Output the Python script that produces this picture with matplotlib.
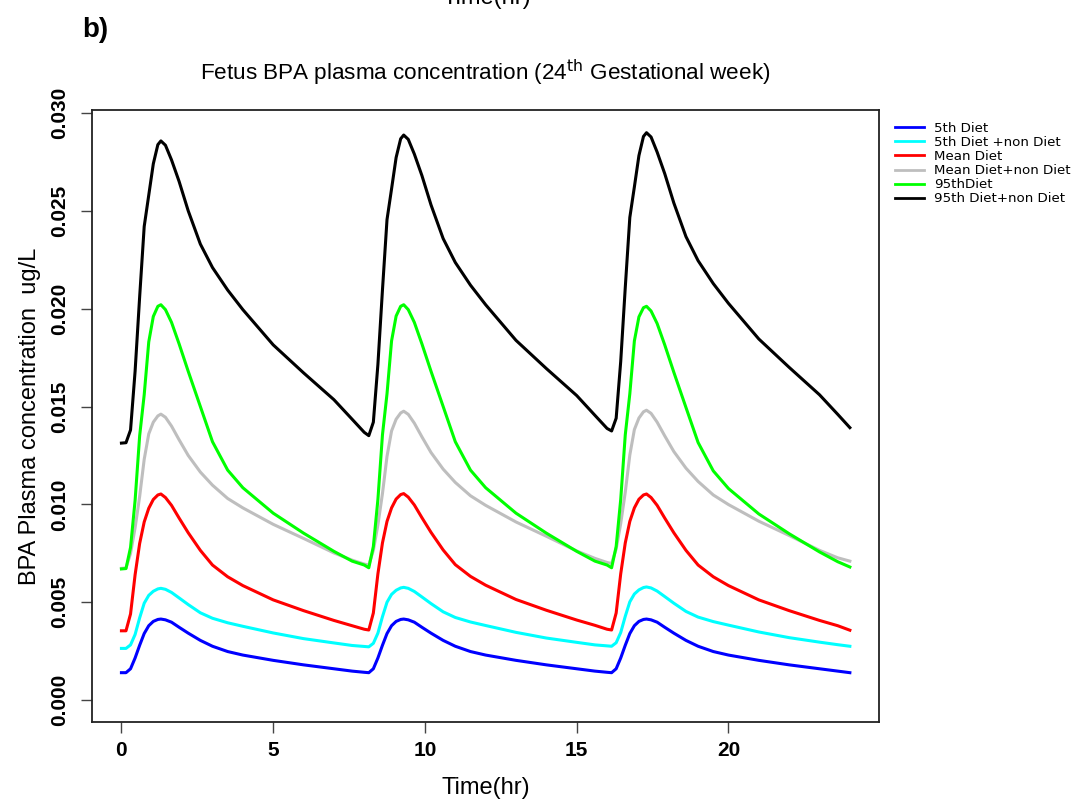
import matplotlib
matplotlib.use("Agg")
import matplotlib.pyplot as plt

plt.rcParams['font.family'] = ['Liberation Sans', 'DejaVu Sans']

hours = [0.0, 0.15, 0.3, 0.45, 0.6, 0.75, 0.9, 1.05, 1.2, 1.3, 1.45, 1.65, 1.9, 2.2, 2.6, 3.0, 3.5, 4.0, 5.0, 6.0, 7.0, 7.6,
         8.0, 8.15, 8.3, 8.45, 8.6, 8.75, 8.9, 9.05, 9.2, 9.3, 9.45, 9.65, 9.9, 10.2, 10.6, 11.0, 11.5, 12.0, 13.0, 14.0, 15.0, 15.6,
         16.0, 16.15, 16.3, 16.45, 16.6, 16.75, 16.9, 17.05, 17.2, 17.3, 17.45, 17.65, 17.9, 18.2, 18.6, 19.0, 19.5, 20.0, 21.0, 22.0, 23.0, 23.6,
         24.0]

diet_5th = [0.00140, 0.00140, 0.00160, 0.00215, 0.00280, 0.00340, 0.00380, 0.00402, 0.00412, 0.00414, 0.00410, 0.00398, 0.00372, 0.00342, 0.00305, 0.00275, 0.00248, 0.00230, 0.00203, 0.00180, 0.00160, 0.00148,
            0.00142, 0.00140, 0.00160, 0.00215, 0.00280, 0.00340, 0.00380, 0.00402, 0.00412, 0.00414, 0.00410, 0.00398, 0.00372, 0.00342, 0.00305, 0.00275, 0.00248, 0.00230, 0.00203, 0.00180, 0.00160, 0.00148,
            0.00142, 0.00140, 0.00160, 0.00215, 0.00280, 0.00340, 0.00380, 0.00402, 0.00412, 0.00414, 0.00410, 0.00398, 0.00372, 0.00342, 0.00305, 0.00275, 0.00248, 0.00230, 0.00203, 0.00180, 0.00160, 0.00148,
            0.00140]

diet_5th_non = [0.00264, 0.00264, 0.00282, 0.00335, 0.00420, 0.00495, 0.00535, 0.00556, 0.00568, 0.00571, 0.00566, 0.00550, 0.00522, 0.00488, 0.00446, 0.00418, 0.00395, 0.00377, 0.00343, 0.00314, 0.00292, 0.00279,
                0.00274, 0.00272, 0.00290, 0.00342, 0.00426, 0.00500, 0.00540, 0.00561, 0.00573, 0.00576, 0.00571, 0.00555, 0.00527, 0.00493, 0.00451, 0.00422, 0.00399, 0.00381, 0.00346, 0.00317, 0.00295, 0.00282,
                0.00277, 0.00275, 0.00293, 0.00345, 0.00428, 0.00502, 0.00542, 0.00563, 0.00575, 0.00578, 0.00573, 0.00557, 0.00529, 0.00495, 0.00453, 0.00424, 0.00401, 0.00383, 0.00348, 0.00319, 0.00296, 0.00283,
                0.00275]

diet_mean = [0.00354, 0.00354, 0.00440, 0.00640, 0.00800, 0.00910, 0.00980, 0.01025, 0.01048, 0.01053, 0.01035, 0.00995, 0.00930, 0.00855, 0.00765, 0.00690, 0.00630, 0.00585, 0.00512, 0.00457, 0.00407, 0.00380,
             0.00362, 0.00358, 0.00445, 0.00645, 0.00803, 0.00913, 0.00982, 0.01027, 0.01050, 0.01055, 0.01037, 0.00997, 0.00932, 0.00857, 0.00767, 0.00692, 0.00632, 0.00587, 0.00514, 0.00459, 0.00409, 0.00382,
             0.00362, 0.00358, 0.00445, 0.00645, 0.00803, 0.00913, 0.00982, 0.01026, 0.01048, 0.01053, 0.01035, 0.00995, 0.00930, 0.00855, 0.00765, 0.00690, 0.00630, 0.00585, 0.00512, 0.00457, 0.00407, 0.00380,
             0.00357]

diet_mean_non = [0.00673, 0.00675, 0.00750, 0.00880, 0.01040, 0.01230, 0.01360, 0.01420, 0.01452, 0.01461, 0.01445, 0.01400, 0.01330, 0.01250, 0.01165, 0.01098, 0.01030, 0.00982, 0.00898, 0.00826, 0.00752, 0.00715,
                 0.00695, 0.00690, 0.00765, 0.00895, 0.01055, 0.01245, 0.01375, 0.01435, 0.01467, 0.01476, 0.01460, 0.01415, 0.01345, 0.01265, 0.01180, 0.01112, 0.01044, 0.00995, 0.00910, 0.00837, 0.00762, 0.00724,
                 0.00703, 0.00698, 0.00772, 0.00902, 0.01062, 0.01252, 0.01382, 0.01441, 0.01473, 0.01481, 0.01465, 0.01420, 0.01350, 0.01270, 0.01185, 0.01117, 0.01048, 0.00999, 0.00914, 0.00841, 0.00765, 0.00727,
                 0.00710]

diet_95th = [0.00670, 0.00672, 0.00780, 0.01020, 0.01350, 0.01560, 0.01830, 0.01960, 0.02012, 0.02020, 0.01995, 0.01930, 0.01820, 0.01680, 0.01500, 0.01320, 0.01175, 0.01085, 0.00955, 0.00853, 0.00760, 0.00710,
             0.00690, 0.00676, 0.00785, 0.01025, 0.01355, 0.01565, 0.01835, 0.01962, 0.02012, 0.02020, 0.01995, 0.01930, 0.01820, 0.01680, 0.01500, 0.01320, 0.01175, 0.01085, 0.00955, 0.00853, 0.00760, 0.00710,
             0.00690, 0.00676, 0.00785, 0.01025, 0.01355, 0.01565, 0.01835, 0.01958, 0.02005, 0.02012, 0.01988, 0.01924, 0.01815, 0.01675, 0.01495, 0.01316, 0.01171, 0.01081, 0.00951, 0.00850, 0.00757, 0.00707,
             0.00680]

diet_95th_non = [0.01313, 0.01315, 0.01380, 0.01680, 0.02060, 0.02420, 0.02580, 0.02740, 0.02838, 0.02857, 0.02835, 0.02760, 0.02650, 0.02500, 0.02330, 0.02210, 0.02095, 0.01995, 0.01815, 0.01672, 0.01535, 0.01435,
                 0.01368, 0.01351, 0.01420, 0.01715, 0.02095, 0.02455, 0.02612, 0.02772, 0.02868, 0.02887, 0.02865, 0.02790, 0.02680, 0.02530, 0.02358, 0.02236, 0.02120, 0.02020, 0.01838, 0.01694, 0.01556, 0.01455,
                 0.01388, 0.01375, 0.01440, 0.01730, 0.02108, 0.02466, 0.02622, 0.02782, 0.02880, 0.02899, 0.02877, 0.02800, 0.02690, 0.02540, 0.02368, 0.02245, 0.02128, 0.02027, 0.01845, 0.01700, 0.01560, 0.01460,
                 0.01392]

series_labels = ["5th Diet", "5th Diet +non Diet", "Mean Diet", "Mean Diet+non Diet", "95thDiet", "95th Diet+non Diet"]
series_colors = ["#0000FF", "#00FFFF", "#FF0000", "#BEBEBE", "#00FF00", "#000000"]
series_values = [diet_5th, diet_5th_non, diet_mean, diet_mean_non, diet_95th, diet_95th_non]

x_ticks = [0, 5, 10, 15, 20]
y_ticks = [0.000, 0.005, 0.010, 0.015, 0.020, 0.025, 0.030]
y_tick_labels = ["0.000", "0.005", "0.010", "0.015", "0.020", "0.025", "0.030"]

fig = plt.figure(figsize=(10.81, 8.09), dpi=100)
ax = fig.add_axes([92.3 / 1081, 1 - 722 / 809, (879 - 92.3) / 1081, (722 - 110) / 809])

for vals, col, lab in zip(series_values, series_colors, series_labels):
    ax.plot(hours, vals, color=col, lw=2.2, label=lab, solid_joinstyle='round')

ax.set_xlim(-0.96, 24.96)
ax.set_ylim(-0.00112, 0.03015)
ax.set_xticks(x_ticks)
ax.set_xticklabels([str(v) for v in x_ticks], fontsize=15, fontweight='bold')
ax.set_yticks(y_ticks)
ax.set_yticklabels(y_tick_labels, fontsize=15, fontweight='bold', rotation=90, va='center')
ax.tick_params(axis='both', length=8, width=1, color='#444444')
ax.tick_params(axis='x', pad=6)
ax.tick_params(axis='y', pad=9)
for sp in ax.spines.values():
    sp.set_linewidth(1.3)
    sp.set_color('#222222')

ax.set_xlabel("Time(hr)", fontsize=17, labelpad=12)
ax.set_ylabel("BPA Plasma concentration  ug/L", fontsize=17, labelpad=6)

fig.text(0.5 * (92.3 + 879) / 1081, 1 - 73 / 809,
         r"Fetus BPA plasma concentration (24$^{\mathrm{th}}$ Gestational week)",
         ha='center', va='center', fontsize=16.2)
fig.text(82 / 1081, 1 - 30 / 809, "b)", fontsize=20, fontweight='bold', ha='left', va='center')
fig.text(487 / 1081, 1 - 4 / 809, "Time(hr)", fontsize=17, ha='center', va='baseline')

leg = ax.legend(loc='upper left', bbox_to_anchor=(895 / 1081, 1 - 122 / 809),
                bbox_transform=fig.transFigure, frameon=False,
                prop={'family': 'DejaVu Sans', 'size': 9.6},
                handlelength=2.2, handletextpad=0.7, labelspacing=0.08, borderpad=0, borderaxespad=0)
for ln in leg.get_lines():
    ln.set_linewidth(2.0)

fig.savefig("out.png", dpi=100)
